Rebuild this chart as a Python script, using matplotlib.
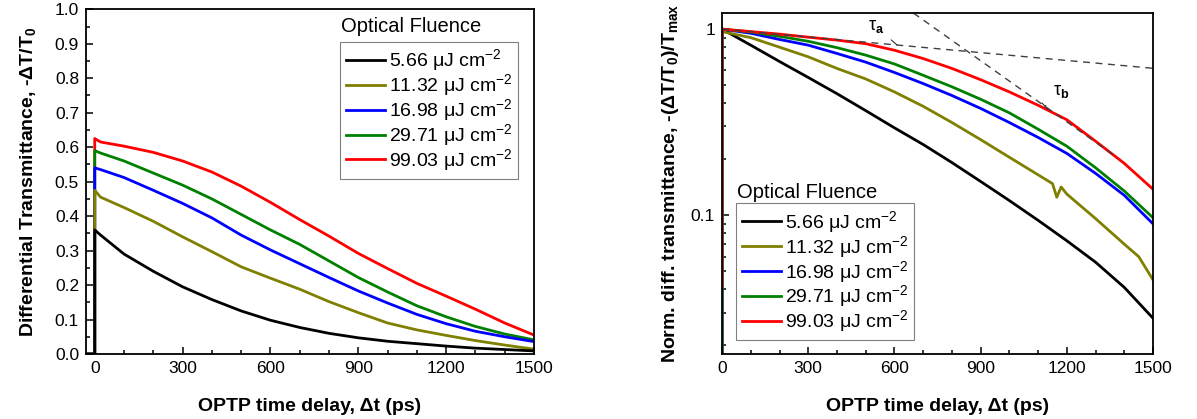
import matplotlib
matplotlib.use('Agg')
import matplotlib.pyplot as plt
from matplotlib.ticker import MultipleLocator, FixedLocator, FixedFormatter, LogLocator, NullFormatter, FormatStrFormatter

plt.rcParams['font.family'] = ['Liberation Sans', 'DejaVu Sans']
plt.rcParams['mathtext.fontset'] = 'custom'
plt.rcParams['mathtext.rm'] = 'Liberation Sans'
plt.rcParams['mathtext.it'] = 'Liberation Sans:italic'
plt.rcParams['mathtext.bf'] = 'Liberation Sans:bold'

# --- data ---
fluences = ['5.66', '11.32', '16.98', '29.71', '99.03']
colors = ['black', '#808000', '#0000ff', '#008000', '#ff0000']

# left panel: -dT/T0 vs delay
t_left = [-30, 0, 0, 20, 100, 200, 300, 400, 500, 600, 700, 800, 900, 1000, 1100, 1200, 1300, 1400, 1500]
black_l = [0, 0, 0.36, 0.345, 0.29, 0.24, 0.195, 0.158, 0.125, 0.098, 0.077, 0.06, 0.047, 0.037, 0.03, 0.023, 0.017, 0.013, 0.009]
olive_l = [0, 0, 0.475, 0.455, 0.425, 0.385, 0.34, 0.297, 0.253, 0.22, 0.188, 0.152, 0.12, 0.09, 0.07, 0.054, 0.039, 0.026, 0.014]
blue_l = [0, 0, 0.54, 0.535, 0.512, 0.475, 0.437, 0.395, 0.345, 0.302, 0.262, 0.222, 0.183, 0.148, 0.115, 0.088, 0.066, 0.05, 0.036]
green_l = [0, 0, 0.59, 0.583, 0.56, 0.525, 0.49, 0.45, 0.405, 0.36, 0.318, 0.27, 0.222, 0.18, 0.14, 0.108, 0.08, 0.058, 0.041]
red_l = [0, 0, 0.625, 0.615, 0.603, 0.585, 0.56, 0.528, 0.487, 0.44, 0.39, 0.342, 0.292, 0.248, 0.205, 0.168, 0.13, 0.09, 0.055]

# right panel: normalised, log scale
t_right = [0, 0, 100, 200, 300, 400, 500, 600, 700, 800, 900, 1000, 1100, 1200, 1300, 1400, 1500]
black_r = [0.001, 1.0, 0.82, 0.67, 0.55, 0.45, 0.365, 0.295, 0.24, 0.192, 0.152, 0.12, 0.094, 0.073, 0.056, 0.041, 0.028]
blue_r = [0.001, 1.0, 0.95, 0.88, 0.82, 0.74, 0.665, 0.585, 0.51, 0.44, 0.375, 0.315, 0.262, 0.215, 0.168, 0.128, 0.09]
green_r = [0.001, 1.0, 0.965, 0.915, 0.86, 0.795, 0.725, 0.65, 0.565, 0.49, 0.42, 0.355, 0.29, 0.235, 0.18, 0.135, 0.097]
red_r = [0.041, 1.0, 0.97, 0.94, 0.905, 0.873, 0.835, 0.77, 0.695, 0.615, 0.535, 0.46, 0.39, 0.326, 0.25, 0.19, 0.138]
t_olive_r = [0, 0, 100, 200, 300, 400, 500, 600, 700, 800, 900, 1000, 1100, 1150, 1165, 1180, 1200, 1300, 1400, 1450, 1500]
olive_r = [0.001, 0.97, 0.9, 0.8, 0.71, 0.615, 0.54, 0.46, 0.385, 0.315, 0.255, 0.205, 0.165, 0.148, 0.125, 0.142, 0.13, 0.096, 0.07, 0.06, 0.045]

# fitted decay guides
tau_a_t = [0, 1500]
tau_a_v = [1.0, 0.616]
tau_b_t = [666, 1370]
tau_b_v = [1.22, 0.207]

left_series = [black_l, olive_l, blue_l, green_l, red_l]
right_t = [t_right, t_olive_r, t_right, t_right, t_right]
right_series = [black_r, olive_r, blue_r, green_r, red_r]
labels = [f + ' \u03bcJ cm$^{-2}$' for f in fluences]

fig = plt.figure(figsize=(11.97, 4.19), dpi=100)
ax1 = fig.add_axes([0.0718, 0.1551, 0.3743, 0.8227])
ax2 = fig.add_axes([0.6032, 0.1551, 0.3601, 0.8138])

lw = 2.0
# left: draw high fluence first so the rising edges stack like the original
handles = [None] * 5
for i in reversed(range(5)):
    handles[i], = ax1.plot(t_left, left_series[i], color=colors[i], lw=lw)

ax1.set_xlim(-30, 1500)
ax1.set_ylim(0, 1.0)
ax1.xaxis.set_major_locator(FixedLocator([0, 300, 600, 900, 1200, 1500]))
ax1.xaxis.set_minor_locator(MultipleLocator(100))
ax1.yaxis.set_major_locator(MultipleLocator(0.1))
ax1.yaxis.set_minor_locator(MultipleLocator(0.05))
ax1.yaxis.set_major_formatter(FormatStrFormatter('%.1f'))
ax1.set_xlabel('OPTP time delay, \u0394t (ps)', fontsize=14, fontweight='bold', labelpad=16)
ax1.set_ylabel('Differential Transmittance, -\u0394T/T$_{\\mathbf{0}}$', fontsize=14, fontweight='bold', labelpad=12)

legkw = dict(loc='upper left', fontsize=14, frameon=True, fancybox=False, edgecolor='#808080',
             framealpha=1, handlelength=2.0, handletextpad=0.2, borderpad=0.3,
             labelspacing=-0.05, borderaxespad=0)
leg1 = ax1.legend(handles, labels, bbox_to_anchor=(0.567, 0.906), **legkw)
leg1.get_frame().set_linewidth(0.8)
ax1.text(0.569, 0.949, 'Optical Fluence', transform=ax1.transAxes, fontsize=14.5, va='center', ha='left')

# right panel
for i in range(5):
    ax2.plot(right_t[i], right_series[i], color=colors[i], lw=lw)
ax2.plot(tau_a_t, tau_a_v, color='#404040', lw=1.0, ls=(0, (5, 4)))
ax2.plot(tau_b_t, tau_b_v, color='#404040', lw=1.0, ls=(0, (5, 4)))
ax2.set_yscale('log')
ax2.set_xlim(0, 1500)
ax2.set_ylim(0.018, 1.22)
ax2.xaxis.set_major_locator(FixedLocator([0, 300, 600, 900, 1200, 1500]))
ax2.xaxis.set_minor_locator(MultipleLocator(100))
ax2.yaxis.set_major_locator(FixedLocator([0.1, 1]))
ax2.yaxis.set_major_formatter(FixedFormatter(['0.1', '1']))
ax2.yaxis.set_minor_locator(LogLocator(base=10, subs=[2, 3, 4, 5, 6, 7, 8, 9]))
ax2.yaxis.set_minor_formatter(NullFormatter())
ax2.set_xlabel('OPTP time delay, \u0394t (ps)', fontsize=14, fontweight='bold', labelpad=16)
ax2.set_ylabel('Norm. diff. transmittance, -(\u0394T/T$_{\\mathbf{0}}$)/T$_{\\mathbf{max}}$',
               fontsize=14, fontweight='bold', labelpad=7)

ax2.annotate('\u03c4$_{\\mathbf{a}}$', xy=(609, 0.822), xytext=(536, 1.03), fontsize=13,
             ha='center', va='center',
             arrowprops=dict(arrowstyle='-', color='#303030', lw=0.8, shrinkA=4, shrinkB=0))
ax2.annotate('\u03c4$_{\\mathbf{b}}$', xy=(1124, 0.385), xytext=(1180, 0.46), fontsize=13,
             ha='center', va='center',
             arrowprops=dict(arrowstyle='-[, widthB=0.25, lengthB=0', color='#303030', lw=0.8,
                             shrinkA=4, shrinkB=0))

leg2 = ax2.legend(labels, bbox_to_anchor=(0.0325, 0.443), **legkw)
leg2.get_frame().set_linewidth(0.8)
ax2.text(0.035, 0.475, 'Optical Fluence', transform=ax2.transAxes, fontsize=14.5, va='center', ha='left')

for ax in (ax1, ax2):
    for s in ax.spines.values():
        s.set_linewidth(1.3)
    ax.tick_params(which='both', direction='in', top=False, right=False, labelsize=12.5, width=1.1)
    ax.tick_params(which='major', length=5, pad=5)
    ax.tick_params(which='minor', length=3)

fig.savefig('out.png', dpi=100)
